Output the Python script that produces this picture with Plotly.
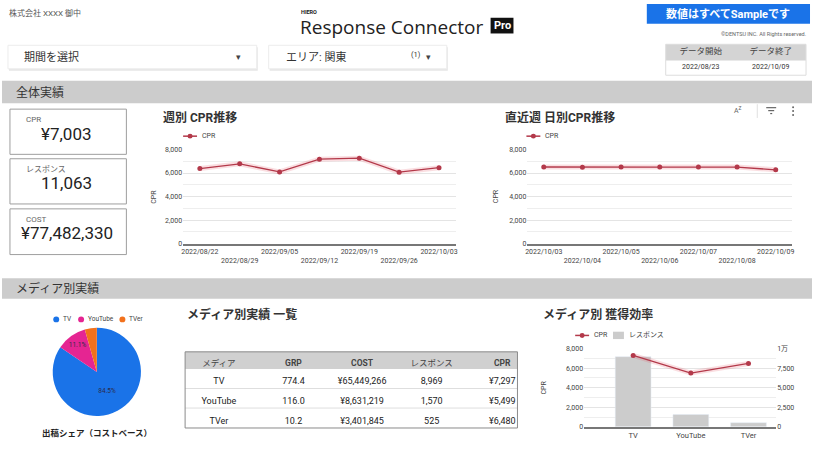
import plotly.graph_objects as go

W, H = 814, 460
def X(px): return px / W
def Y(py): return 1 - py / H

FONT = "Roboto, 'Noto Sans CJK JP', sans-serif"

# ---------------- data ----------------
weeks = ["2022/08/22", "2022/08/29", "2022/09/05", "2022/09/12", "2022/09/19", "2022/09/26", "2022/10/03"]
weekly_cpr = [6380, 6780, 6090, 7170, 7260, 6070, 6450]
days = ["2022/10/03", "2022/10/04", "2022/10/05", "2022/10/06", "2022/10/07", "2022/10/08", "2022/10/09"]
daily_cpr = [6510, 6490, 6510, 6500, 6500, 6500, 6270]
media = ["TV", "YouTube", "TVer"]
media_grp = [774.4, 116.0, 10.2]
media_cost = [65449266, 8631219, 3401845]
media_resp = [8969, 1570, 525]
media_cpr = [7297, 5499, 6480]
kpi_labels = ["CPR", "レスポンス", "COST"]
kpi_values = ["¥7,003", "11,063", "¥77,482,330"]
table_header = ["メディア", "GRP", "COST", "レスポンス", "CPR"]
date_header = ["データ開始", "データ終了"]
date_values = ["2022/08/23", "2022/10/09"]
cpr_ticks = [0, 2000, 4000, 6000, 8000]
resp_ticks = [0, 2500, 5000, 7500, 10000]
resp_ticktext = ["0", "2,500", "5,000", "7,500", "1万"]

LINE = "#b3394a"
HALO = "rgba(228,90,105,0.20)"
PIE_COLORS = ["#1a73e8", "#e52592", "#f2711c"]
TXT = "#333333"

def stagger(labels):
    return [l if i % 2 == 0 else "<br>" + l for i, l in enumerate(labels)]

fig = go.Figure()

# weekly chart
fig.add_trace(go.Scatter(x=weeks, y=weekly_cpr, mode="lines", line=dict(color=HALO, width=5),
                         xaxis="x", yaxis="y", hoverinfo="skip", showlegend=False))
fig.add_trace(go.Scatter(x=weeks, y=weekly_cpr, mode="lines+markers", name="CPR",
                         line=dict(color=LINE, width=1.3), marker=dict(color=LINE, size=5),
                         xaxis="x", yaxis="y", showlegend=False))
# daily chart
fig.add_trace(go.Scatter(x=days, y=daily_cpr, mode="lines", line=dict(color=HALO, width=5),
                         xaxis="x2", yaxis="y2", hoverinfo="skip", showlegend=False))
fig.add_trace(go.Scatter(x=days, y=daily_cpr, mode="lines+markers", name="CPR",
                         line=dict(color=LINE, width=1.3), marker=dict(color=LINE, size=5),
                         xaxis="x2", yaxis="y2", showlegend=False))
# media chart: bars (right axis, base) + CPR line (left axis, overlay)
fig.add_trace(go.Bar(x=media, y=media_resp, name="レスポンス", marker=dict(color="#cccccc"),
                     width=0.62, xaxis="x3", yaxis="y3", showlegend=False))
fig.add_trace(go.Scatter(x=media, y=media_cpr, mode="lines", line=dict(color=HALO, width=5),
                         xaxis="x3", yaxis="y4", hoverinfo="skip", showlegend=False))
fig.add_trace(go.Scatter(x=media, y=media_cpr, mode="lines+markers", name="CPR",
                         line=dict(color=LINE, width=1.3), marker=dict(color=LINE, size=5),
                         xaxis="x3", yaxis="y4", showlegend=False))

# pie
fig.add_trace(go.Pie(labels=media, values=media_cost, sort=False, direction="clockwise", rotation=0,
                     marker=dict(colors=PIE_COLORS, line=dict(width=0)),
                     texttemplate=["%{percent:.1%}", "%{percent:.1%}", ""],
                     textposition="inside", insidetextorientation="horizontal",
                     textfont=dict(size=6.5, color="#2b2b4a", family=FONT),
                     showlegend=False, hoverinfo="label+percent",
                     domain=dict(x=[X(50.5), X(140.1)], y=[Y(419.3), Y(329.5)])))

# media table (text only; visuals drawn as shapes underneath)
cells = [media,
         [f"{v:.1f}" for v in media_grp],
         [f"¥{v:,}" for v in media_cost],
         [f"{v:,}" for v in media_resp],
         [f"¥{v:,}" for v in media_cpr]]
fig.add_trace(go.Table(
    domain=dict(x=[X(184), X(532)], y=[Y(445), Y(354)]),
    columnwidth=[68, 82, 56, 84, 58],
    header=dict(values=table_header, height=17.5, align="center",
                fill=dict(color="rgba(0,0,0,0)"), line=dict(color="rgba(0,0,0,0)", width=0),
                font=dict(size=8.5, color="#444", family=FONT,
                          weight=[400 if not h.isascii() else 700 for h in table_header])),
    cells=dict(values=cells, height=19.8, align="center",
               fill=dict(color="rgba(0,0,0,0)"), line=dict(color="rgba(0,0,0,0)", width=0),
               font=dict(size=9, color="#222", family=FONT))))

# date table
fig.add_trace(go.Table(
    domain=dict(x=[X(667), X(808)], y=[Y(90), Y(36)]),
    columnwidth=[1, 1],
    header=dict(values=date_header, height=16.5, align="center",
                fill=dict(color="rgba(0,0,0,0)"), line=dict(color="rgba(0,0,0,0)", width=0),
                font=dict(size=8.5, color="#444", family=FONT)),
    cells=dict(values=[[v] for v in date_values], height=14, align="center",
               fill=dict(color="rgba(0,0,0,0)"), line=dict(color="rgba(0,0,0,0)", width=0),
               font=dict(size=7, color="#333", family=FONT))))

tickfont = dict(size=7, color="#444", family=FONT)
yax_common = dict(range=[0, 8000], tickvals=cpr_ticks, tickformat=",", showgrid=True, gridcolor="#e4e4e4",
                  gridwidth=1, zeroline=False, tickfont=tickfont, ticks="", fixedrange=True,
                  minor=dict(dtick=1000, showgrid=True, gridcolor="#eeeeee", gridwidth=1))
xax_common = dict(type="category", showgrid=False, showline=True, linecolor="#777", linewidth=1.5,
                  tickfont=tickfont, ticks="", tickangle=0, fixedrange=True)

fig.update_layout(
    width=W, height=H, margin=dict(l=0, r=0, t=0, b=0),
    paper_bgcolor="white", plot_bgcolor="white",
    font=dict(family=FONT, color=TXT),
    xaxis=dict(domain=[X(182), X(456)], anchor="y", tickvals=weeks, ticktext=stagger(weeks), **xax_common),
    yaxis=dict(domain=[Y(244), Y(148)], anchor="x", **yax_common),
    xaxis2=dict(domain=[X(528), X(794)], anchor="y2", tickvals=days, ticktext=stagger(days), **xax_common),
    yaxis2=dict(domain=[Y(244), Y(148)], anchor="x2", **yax_common),
    xaxis3=dict(domain=[X(585), X(778)], anchor="y3", range=[-0.85, 2.48],
                **{k: v for k, v in xax_common.items() if k != "tickfont"},
                tickfont=dict(size=7.5, color="#444", family=FONT)),
    yaxis3=dict(domain=[Y(430.3), Y(350.7)], anchor="x3", side="right", range=[0, 10000],
                tickvals=resp_ticks, ticktext=resp_ticktext, showgrid=False, zeroline=False,
                tickfont=tickfont, ticks="", fixedrange=True),
    yaxis4=dict(overlaying="y3", anchor="x3", side="left", **yax_common),
    bargap=0.38,
)

shapes = []
ann = []

def rect(x0, y0, x1, y1, fill=None, line=None, lw=1, layer="below"):
    shapes.append(dict(type="rect", xref="paper", yref="paper", x0=X(x0), x1=X(x1), y0=Y(y1), y1=Y(y0),
                       fillcolor=fill if fill else "rgba(0,0,0,0)",
                       line=dict(color=line if line else "rgba(0,0,0,0)", width=lw if line else 0),
                       layer=layer))

def hline(x0, x1, y, color, lw=1, layer="below"):
    shapes.append(dict(type="line", xref="paper", yref="paper", x0=X(x0), x1=X(x1), y0=Y(y), y1=Y(y),
                       line=dict(color=color, width=lw), layer=layer))

def vline(x, y0, y1, color, lw=1, layer="below"):
    shapes.append(dict(type="line", xref="paper", yref="paper", x0=X(x), x1=X(x), y0=Y(y0), y1=Y(y1),
                       line=dict(color=color, width=lw), layer=layer))

def text(x, y, s, size, color=TXT, xanchor="left", family=FONT, angle=0, yanchor="middle"):
    ann.append(dict(xref="paper", yref="paper", x=X(x), y=Y(y), text=s, showarrow=False,
                    xanchor=xanchor, yanchor=yanchor, textangle=angle,
                    font=dict(size=size, color=color, family=family)))

# ---- header ----
text(5, 9, "株式会社 XXXX 御中", 8, "#555")
text(298, 8, "<b>HIERO</b>", 5.5, "#222", family="Roboto")
text(297, 23, "Response Connector", 19, "#222", family="'Open Sans', sans-serif")
rect(491, 14, 514, 30, fill="#111111")
text(502.5, 22.3, "<b>Pro</b>", 11, "white", xanchor="center", family="Roboto")
rect(648, 0, 812, 20, fill="#1a73e8")
text(730, 10, "<b>数値はすべてSampleです</b>", 11, "white", xanchor="center")
text(810, 31, "©DENTSU INC. All Rights reserved.", 5.5, "#666", xanchor="right")

# dropdowns
rect(7, 44, 257, 68, fill="#e6e6e6")
rect(6, 42, 256, 66, fill="white", line="#ececec")
text(20, 54, "期間を選択", 11, "#333")
text(238, 54, "▾", 9, "#444", xanchor="center")
rect(269, 44, 448, 68, fill="#e6e6e6")
rect(268, 42, 447, 66, fill="white", line="#ececec")
text(283, 54, "エリア: 関東", 11, "#333")
text(416, 51, "(1)", 7.5, "#333", xanchor="center")
text(429, 54, "▾", 9, "#444", xanchor="center")

# date table visuals
rect(667, 41, 808, 57.5, fill="#d4d4d4")
rect(667, 41, 808, 72.5, line="#dddddd")

# section bands
rect(0, 78, 814, 101, fill="#cccccc")
text(12, 90, "全体実績", 12, "#333")
rect(0, 279, 814, 300, fill="#cccccc")
text(12, 290, "メディア別実績", 12, "#333")

# KPI boxes
for (y0, y1), lab, val in zip([(107, 153), (157.5, 203.5), (208.5, 255)], kpi_labels, kpi_values):
    rect(8, y0, 125, y1, fill="white", line="#9e9e9e")
    text(22, y0 + 11, lab, 8, "#666")
    text(65, y0 + 25, val, 17, "#222", xanchor="center")

# chart titles
text(160, 116, "<b>週別 CPR推移</b>", 12, "#333")
text(503, 116, "<b>直近週 日別CPR推移</b>", 12, "#333")
text(184, 316.5, "<b>メディア別実績 一覧</b>", 12, "#333")
text(542, 316.5, "<b>メディア別 獲得効率</b>", 12, "#333")

# y-axis titles
text(152, 196, "CPR", 7, "#444", xanchor="center", angle=-90)
text(496, 196, "CPR", 7, "#444", xanchor="center", angle=-90)
text(545, 390, "CPR", 7, "#444", xanchor="center", angle=-90)

# line legends (drawn)
def line_legend(x0, y, label):
    shapes.append(dict(type="line", xref="paper", yref="paper", x0=X(x0), x1=X(x0 + 14), y0=Y(y), y1=Y(y),
                       line=dict(color=LINE, width=1.5), layer="above"))
    shapes.append(dict(type="circle", xref="paper", yref="paper", x0=X(x0 + 4.5), x1=X(x0 + 9.5),
                       y0=Y(y + 2.5), y1=Y(y - 2.5), fillcolor=LINE, line=dict(width=0), layer="above"))
    text(x0 + 17, y, label, 7, "#444")

line_legend(182, 134.5, "CPR")
line_legend(527, 134.5, "CPR")
line_legend(576, 337.3, "CPR")
rect(614, 333.5, 625, 341, fill="#cccccc")
text(628, 337.3, "レスポンス", 7, "#444")

# toolbar icons
text(740, 108, "A<sup>Z</sup>", 7, "#666", xanchor="center")
vline(759, 102, 116, "#e0e0e0")
hline(768, 778, 105.5, "#666", 1.2)
hline(770, 776, 108.5, "#666", 1.2)
hline(772, 774, 111.5, "#666", 1.2)
for yy in (105, 109, 113):
    shapes.append(dict(type="circle", xref="paper", yref="paper", x0=X(794), x1=X(796),
                       y0=Y(yy + 1), y1=Y(yy - 1), fillcolor="#666", line=dict(width=0)))

# pie legend + title
for cx, col, lab in zip([54.5, 79.5, 121], PIE_COLORS, media):
    shapes.append(dict(type="circle", xref="paper", yref="paper", x0=X(cx - 3), x1=X(cx + 3),
                       y0=Y(321 + 3), y1=Y(321 - 3), fillcolor=col, line=dict(width=0)))
    text(cx + 5, 321, lab, 6.5, "#444")
text(95.3, 437, "<b>出稿シェア（コストベース）</b>", 8.5, "#222", xanchor="center")

# media table visuals
rect(184, 354, 518, 371.5, fill="#d0d0d0")
for yy in (391.3, 411.2):
    hline(184, 518, yy, "#dedede")
rect(184, 354, 518, 431.5, line="#8a8a8a")

fig.update_layout(shapes=shapes, annotations=ann)
fig.write_html("out.html", config={"displayModeBar": False},
               post_script="document.body.style.margin='0';document.body.style.padding='0';"
                           "document.body.style.overflow='hidden';")
